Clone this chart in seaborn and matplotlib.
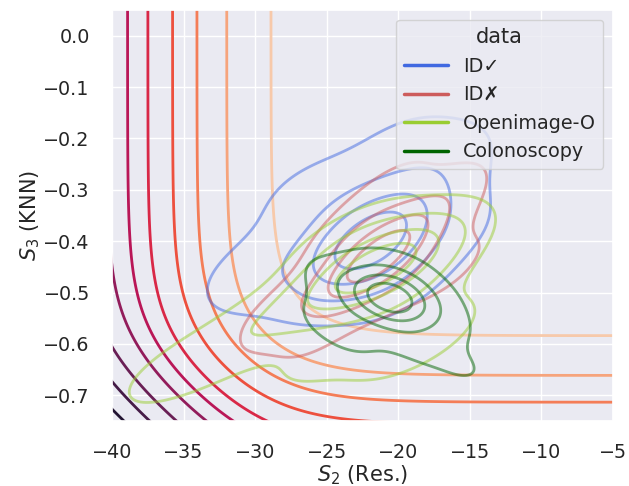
import numpy as np
import pandas as pd
import matplotlib
matplotlib.use("Agg")
import matplotlib.pyplot as plt
from matplotlib.lines import Line2D
import seaborn as sns

# Weighted representative score pairs (S2 residual score, S3 KNN score) per data source
id_ok_s2 = [-21.9, -19.6, -24.2, -20.5, -23.5, -28.5, -31.0, -17.2, -16.5, -20.0, -26.5]
id_ok_s3 = [-0.40, -0.34, -0.45, -0.47, -0.33, -0.45, -0.47, -0.25, -0.38, -0.22, -0.31]
id_ok_w = [0.47, 0.10, 0.10, 0.06, 0.06, 0.05, 0.02, 0.05, 0.03, 0.03, 0.03]

id_bad_s2 = [-21.4, -19.2, -23.8, -20.0, -23.0, -28.0, -17.0, -20.5, -25.5, -16.5]
id_bad_s3 = [-0.43, -0.38, -0.48, -0.47, -0.38, -0.54, -0.32, -0.30, -0.57, -0.45]
id_bad_w = [0.50, 0.10, 0.10, 0.06, 0.06, 0.05, 0.04, 0.03, 0.03, 0.03]

openimage_s2 = [-21.6, -19.5, -24.4, -20.0, -23.0, -28.5, -33.0, -36.5, -18.5, -19.5, -25.0, -18.0]
openimage_s3 = [-0.45, -0.43, -0.50, -0.50, -0.40, -0.55, -0.62, -0.67, -0.41, -0.60, -0.62, -0.57]
openimage_w = [0.42, 0.10, 0.10, 0.06, 0.06, 0.06, 0.04, 0.02, 0.03, 0.04, 0.03, 0.02]

colon_s2 = [-20.6, -18.8, -22.4, -20.2, -21.0, -24.5, -17.0, -18.5, -15.45, -19.5, -24.5, -23.0]
colon_s3 = [-0.51, -0.51, -0.51, -0.55, -0.47, -0.55, -0.56, -0.60, -0.647, -0.46, -0.47, -0.59]
colon_w = [0.52, 0.10, 0.10, 0.05, 0.05, 0.04, 0.03, 0.03, 0.02, 0.02, 0.03, 0.02]

groups = ["ID✓", "ID✗", "Openimage-O", "Colonoscopy"]
group_colors = ["royalblue", "indianred", "yellowgreen", "darkgreen"]
group_bw = [1.0, 1.0, 0.85, 1.0]

# Logistic calibration of each score and the combined log-score levels
s2_center, s2_rate = -29.4954, 0.3514
s3_center, s3_rate = -0.5989, 14.03
score_levels = [-5.664, -5.060, -4.455, -3.830, -3.345, -2.869, -2.309, -1.789, -1.223, -0.593]

df = pd.DataFrame({
    "S2": id_ok_s2 + id_bad_s2 + openimage_s2 + colon_s2,
    "S3": id_ok_s3 + id_bad_s3 + openimage_s3 + colon_s3,
    "w": id_ok_w + id_bad_w + openimage_w + colon_w,
    "data": ([groups[0]] * len(id_ok_s2) + [groups[1]] * len(id_bad_s2)
             + [groups[2]] * len(openimage_s2) + [groups[3]] * len(colon_s2)),
})

sns.set_theme(style="darkgrid", font_scale=1.25)
fig = plt.figure(figsize=(6.29, 4.86), dpi=100)
ax = fig.add_axes([112 / 629, 1 - 421 / 486, 501 / 629, 411 / 486])

# Combined log-score surface: sum of log-sigmoid terms of the two scores
gx = np.linspace(-41, -4, 500)
gy = np.linspace(-0.77, 0.07, 500)
GX, GY = np.meshgrid(gx, gy)
Z = -(np.logaddexp(0, -s2_rate * (GX - s2_center)) + np.logaddexp(0, -s3_rate * (GY - s3_center)))
ax.contour(GX, GY, Z, levels=score_levels, colors=sns.color_palette("rocket", len(score_levels)),
           linewidths=2.0)

# Density contours of each data source
for name, color, bw in zip(groups, group_colors, group_bw):
    sns.kdeplot(data=df[df["data"] == name], x="S2", y="S3", weights="w",
                color=color, levels=5, bw_adjust=bw,
                linewidths=2.0, alpha=0.5, ax=ax)

ax.set_xlim(-40, -5)
ax.set_ylim(-0.75, 0.05)
ax.tick_params(pad=10)
ax.set_xlabel("$S_2$ (Res.)", labelpad=1)
ax.set_ylabel("$S_3$ (KNN)", labelpad=1)

handles = [Line2D([0], [0], color=c, lw=2.5) for c in group_colors]
ax.legend(handles, groups, title="data", loc="upper right", handlelength=2.3)

fig.savefig("out.png", dpi=100)
